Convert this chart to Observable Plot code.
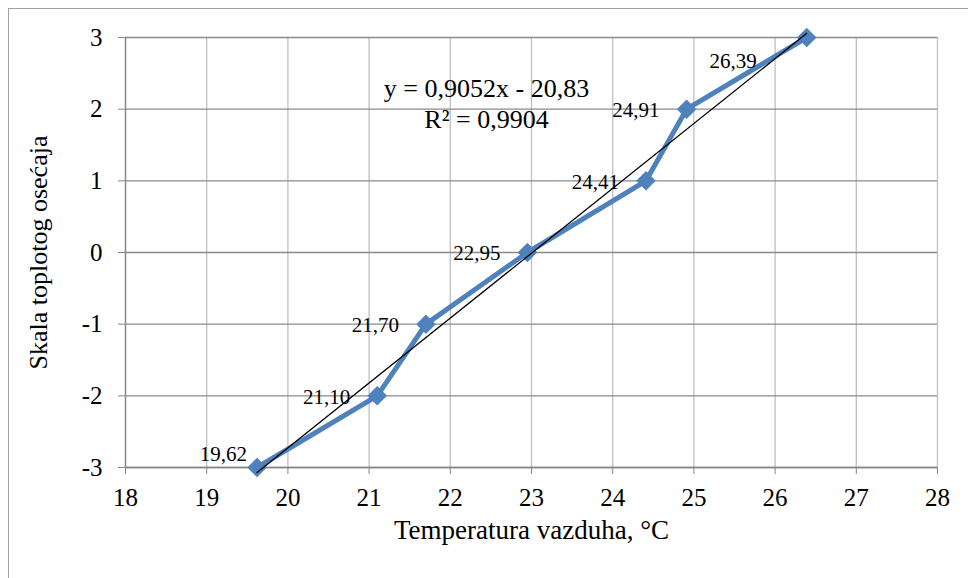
<!DOCTYPE html>
<html>
<head>
<meta charset="utf-8">
<script src="https://cdn.jsdelivr.net/npm/d3@7"></script>
<script src="https://cdn.jsdelivr.net/npm/@observablehq/plot@0.6"></script>
<style>
  html, body { margin: 0; padding: 0; background: #fff; }
  #wrap { position: relative; width: 968px; height: 578px; overflow: hidden; }
  #border { position: absolute; left: 8px; top: 8px; width: 2000px; height: 2000px;
            border-left: 1px solid #a0a0a0; border-top: 1px solid #a0a0a0; }
  #chart { position: absolute; left: 0; top: 0; }
</style>
</head>
<body>
<div id="wrap"><div id="border"></div><div id="chart"></div></div>
<script>
// Data
const temperatures = [19.62, 21.10, 21.70, 22.95, 24.41, 24.91, 26.39];
const sensation = [-3, -2, -1, 0, 1, 2, 3];
const xTicks = [18, 19, 20, 21, 22, 23, 24, 25, 26, 27, 28];
const yTicks = [-3, -2, -1, 0, 1, 2, 3];
const equationLines = ["y = 0,9052x - 20,83", "R² = 0,9904"];
const xTitle = "Temperatura vazduha, °C";
const yTitle = "Skala toplotog osećaja";

const data = temperatures.map((t, i) => ({x: t, y: sensation[i], label: t.toFixed(2).replace(".", ",")}));
const n = data.length;
const first = data.slice(0, 1), middle = data.slice(1, n - 1), last = data.slice(n - 1);

const font = "'Liberation Serif', 'Times New Roman', serif";
const blue = "#4f81bd";

const chart = Plot.plot({
  width: 968,
  height: 578,
  marginLeft: 125,
  marginRight: 31,
  marginTop: 37,
  marginBottom: 111,
  style: {fontFamily: font, fontSize: "25px", color: "black", background: "transparent"},
  x: {domain: [18, 28], ticks: xTicks},
  y: {domain: [-3, 3], ticks: yTicks},
  marks: [
    Plot.gridX(xTicks, {stroke: "#bfbfbf", strokeOpacity: 1, strokeWidth: 1.3}),
    Plot.gridY(yTicks, {stroke: "#8a8a8a", strokeOpacity: 1, strokeWidth: 1.3}),
    Plot.ruleX([18], {stroke: "#868686", strokeWidth: 1.3}),
    Plot.ruleY([-3], {stroke: "#868686", strokeWidth: 1.3}),
    Plot.axisX({ticks: xTicks, tickSize: 7, tickPadding: 14, stroke: "#868686", fill: "black", fontSize: 25, label: null}),
    Plot.axisY({ticks: yTicks, tickSize: 7, tickPadding: 16, stroke: "#868686", fill: "black", fontSize: 25, label: null, tickFormat: d => String(d)}),
    Plot.line(data, {x: "x", y: "y", stroke: blue, strokeWidth: 5, strokeLinejoin: "miter"}),
    Plot.dot(data, {x: "x", y: "y", symbol: "square", r: 7.8, rotate: 45, fill: blue, stroke: "none"}),
    Plot.linearRegressionY(data, {x: "x", y: "y", stroke: "black", strokeWidth: 1.3, ci: 0}),
    Plot.text(first, {x: "x", y: "y", text: "label", textAnchor: "end", dx: -10, dy: -13, fontSize: 21, fill: "black"}),
    Plot.text(middle, {x: "x", y: "y", text: "label", textAnchor: "end", dx: -27, dy: 1, fontSize: 21, fill: "black"}),
    Plot.text(last, {x: "x", y: "y", text: "label", textAnchor: "end", dx: -50, dy: 24, fontSize: 21, fill: "black"}),
    Plot.text([equationLines[0]], {frameAnchor: "top-left", text: d => d, dx: 361, dy: 41, textAnchor: "middle", fontSize: 26, fill: "black"}),
    Plot.text([equationLines[1]], {frameAnchor: "top-left", text: d => d, dx: 361, dy: 72, textAnchor: "middle", fontSize: 26, fill: "black"}),
    Plot.text([yTitle], {frameAnchor: "left", text: d => d, dx: -87, rotate: -90, textAnchor: "middle", fontSize: 26, fill: "black"}),
    Plot.text([xTitle], {frameAnchor: "bottom", text: d => d, dy: 71, textAnchor: "middle", fontSize: 27, fill: "black"})
  ]
});
document.getElementById("chart").appendChild(chart);
</script>
</body>
</html>
